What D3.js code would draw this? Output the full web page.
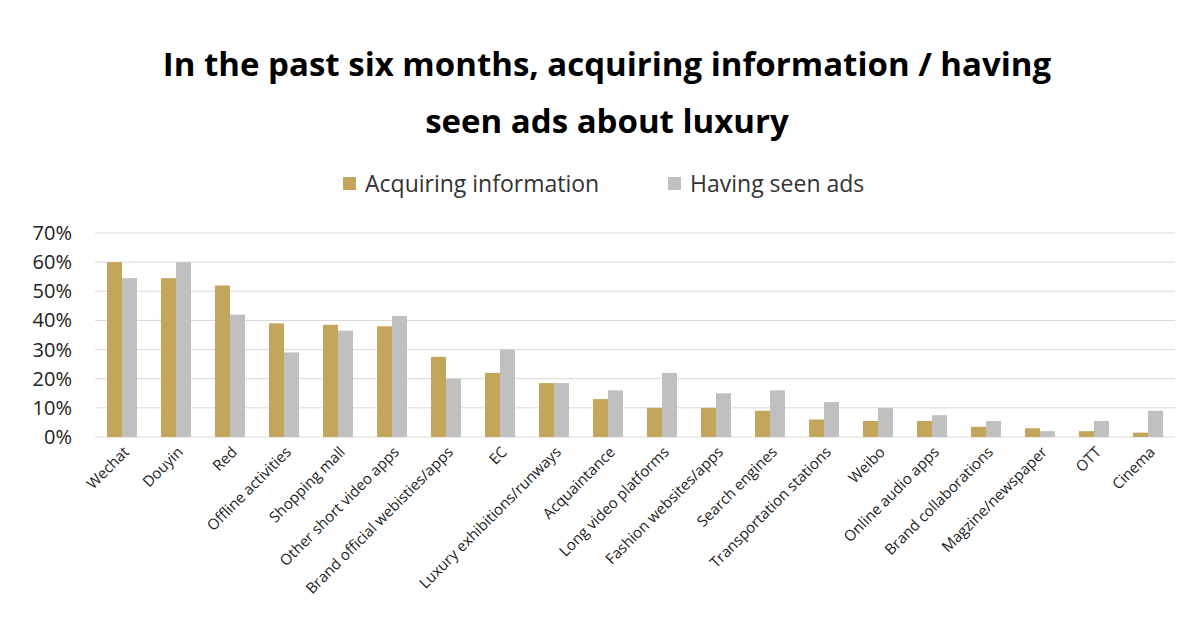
<!DOCTYPE html>
<html><head><meta charset="utf-8">
<script src="https://cdn.jsdelivr.net/npm/d3@7"></script>
<style>body{margin:0;background:#fff;font-family:"Open Sans","Noto Sans",sans-serif;}</style>
</head><body><svg></svg>
<script>
const categories = ["Wechat","Douyin","Red","Offline activities","Shopping mall","Other short video apps","Brand official webisties/apps","EC","Luxury exhibitions/runways","Acquaintance","Long video platforms","Fashion websites/apps","Search engines","Transportation stations","Weibo","Online audio apps","Brand collaborations","Magzine/newspaper","OTT","Cinema"];
const acquiring = [60,54.5,52,39,38.5,38,27.5,22,18.5,13,10,10,9,6,5.5,5.5,3.5,3,2,1.5];
const seenAds = [54.5,60,42,29,36.5,41.5,20,30,18.5,16,22,15,16,12,10,7.5,5.5,2,5.5,9];
const yTicks = [0,10,20,30,40,50,60,70];
const series = [{name:"Acquiring information",values:acquiring,color:"#C4A55C"},
                {name:"Having seen ads",values:seenAds,color:"#C0C0C0"}];

const size = {w:1200,h:625};
const m = {t:233,r:25,b:188,l:95};
const svg = d3.select("svg").attr("width",size.w).attr("height",size.h);

svg.append("text").attr("x",607).attr("y",76).attr("text-anchor","middle")
  .attr("font-size",33).attr("font-weight","bold").text("In the past six months, acquiring information / having");
svg.append("text").attr("x",607).attr("y",133).attr("text-anchor","middle")
  .attr("font-size",33).attr("font-weight","bold").text("seen ads about luxury");

const x = d3.scaleBand().domain(categories).range([m.l,size.w-m.r]);
const x1 = d3.scaleBand().domain([0,1]).range([12,42]);
const y = d3.scaleLinear().domain([0,70]).range([size.h-m.b,m.t]);

svg.append("g").selectAll("line").data(yTicks).join("line")
  .attr("x1",m.l).attr("x2",size.w-m.r).attr("y1",d=>y(d)).attr("y2",d=>y(d))
  .attr("stroke","#d9d9d9");
svg.append("g").selectAll("text").data(yTicks).join("text")
  .attr("x",72).attr("y",d=>y(d)+7).attr("text-anchor","end").attr("font-size",20)
  .attr("fill","#222").text(d=>d+"%");

series.forEach((s,i)=>{
  svg.append("g").selectAll("rect").data(s.values).join("rect")
    .attr("x",(d,j)=>x(categories[j])+x1(i)).attr("width",x1.bandwidth())
    .attr("y",d=>y(d)).attr("height",d=>y(0)-y(d)).attr("fill",s.color);
});

svg.append("g").selectAll("text").data(categories).join("text")
  .attr("transform",d=>`translate(${x(d)+x.bandwidth()/2+8},${y(0)+16}) rotate(-45)`)
  .attr("text-anchor","end").attr("font-size",15).attr("fill","#222").text(d=>d);

const lg = svg.append("g");
const lx = [343,668];
series.forEach((s,i)=>{
  lg.append("rect").attr("x",lx[i]).attr("y",177).attr("width",13).attr("height",13).attr("fill",s.color);
  lg.append("text").attr("x",lx[i]+22).attr("y",192).attr("font-size",23).attr("fill","#333").text(s.name);
});
</script></body></html>
